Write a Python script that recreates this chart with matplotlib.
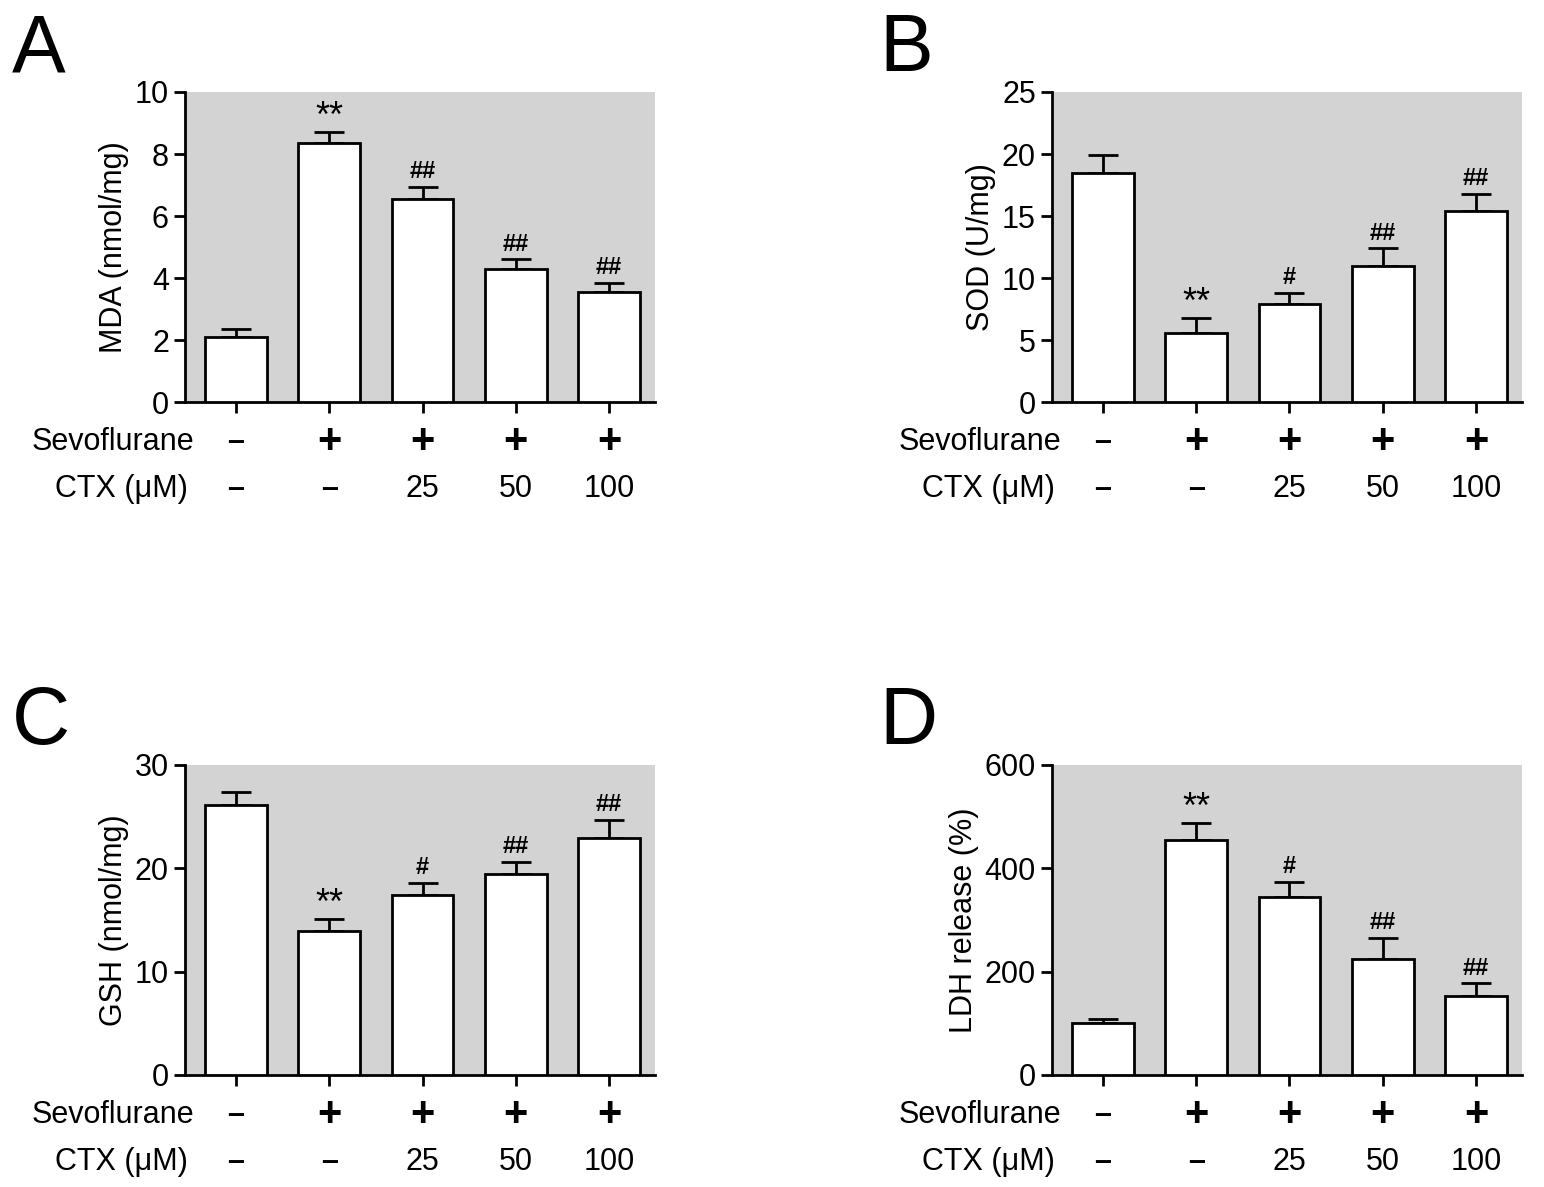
import matplotlib
matplotlib.use("Agg")
import matplotlib.pyplot as plt
from matplotlib.transforms import blended_transform_factory

sevo = ["-", "+", "+", "+", "+"]
ctx = ["-", "-", "25", "50", "100"]

mda = [2.1, 8.35, 6.55, 4.3, 3.55]
mda_err = [0.25, 0.35, 0.4, 0.3, 0.3]
mda_sig = ["", "**", "##", "##", "##"]

sod = [18.5, 5.6, 7.9, 11.0, 15.4]
sod_err = [1.4, 1.2, 0.9, 1.4, 1.4]
sod_sig = ["", "**", "#", "##", "##"]

gsh = [26.1, 13.9, 17.4, 19.4, 22.9]
gsh_err = [1.3, 1.2, 1.2, 1.2, 1.8]
gsh_sig = ["", "**", "#", "##", "##"]

ldh = [100, 455, 345, 225, 152]
ldh_err = [8, 32, 28, 40, 25]
ldh_sig = ["", "**", "#", "##", "##"]

fig = plt.figure(figsize=(15.44, 11.87), dpi=100)
plt.rcParams['font.family'] = ['Liberation Sans', 'DejaVu Sans']

panels = [
    ("A", [0.1198, 0.6613, 0.3044, 0.2612], mda, mda_err, mda_sig, 10, 2, "MDA (nmol/mg)"),
    ("B", [0.6813, 0.6613, 0.3044, 0.2612], sod, sod_err, sod_sig, 25, 5, "SOD (U/mg)"),
    ("C", [0.1198, 0.0944, 0.3044, 0.2612], gsh, gsh_err, gsh_sig, 30, 10, "GSH (nmol/mg)"),
    ("D", [0.6813, 0.0944, 0.3044, 0.2612], ldh, ldh_err, ldh_sig, 600, 200, "LDH release (%)"),
]

for letter, rect, vals, errs, sigs, ymax, step, ylabel in panels:
    ax = fig.add_axes(rect)
    ax.set_facecolor("#d3d3d3")
    x = list(range(5))
    ax.bar(x, vals, width=0.66, color="white", edgecolor="black", linewidth=2, zorder=3)
    ax.errorbar(x, vals, yerr=[[0]*5, errs], fmt="none", ecolor="black",
                elinewidth=2, capsize=11, capthick=2, zorder=2)
    for xi, v, e, s in zip(x, vals, errs, sigs):
        if s:
            if s == "**":
                ax.text(xi, v + e - ymax*0.01, s, ha="center", va="bottom", fontsize=26)
            else:
                ax.text(xi, v + e + ymax*0.012, s, ha="center", va="bottom", fontsize=17, fontweight="bold")
    ax.set_xlim(-0.545, 4.49)
    ax.set_ylim(0, ymax)
    ax.set_yticks(range(0, ymax + 1, step))
    ax.set_xticks(x)
    ax.set_xticklabels([])
    for sp in ["top", "right"]:
        ax.spines[sp].set_visible(False)
    for sp in ["left", "bottom"]:
        ax.spines[sp].set_linewidth(2)
    ax.tick_params(axis="both", width=2, length=8, labelsize=22)
    ax.set_ylabel(ylabel, fontsize=22)
    tr = blended_transform_factory(ax.transData, ax.transAxes)
    for xi, s1, s2 in zip(x, sevo, ctx):
        t1 = "–" if s1 == "-" else s1
        ax.text(xi, -0.13, t1, transform=tr, ha="center", va="center",
                fontsize=30 if s1 == "+" else 22, fontweight="bold")
        t2 = "–" if s2 == "-" else s2
        ax.text(xi, -0.28, t2, transform=tr, ha="center", va="center",
                fontsize=22, fontweight="bold" if s2 == "-" else "normal")
    ax.text(0.02, -0.13, "Sevoflurane", transform=ax.transAxes, ha="right", va="center", fontsize=22)
    ax.text(0.006, -0.28, "CTX (μM)", transform=ax.transAxes, ha="right", va="center", fontsize=22)
    fig.text(rect[0] - 0.112, rect[1] + rect[3] + 0.035, letter, fontsize=58, va="center", ha="left")

fig.savefig("out.png", dpi=100)
